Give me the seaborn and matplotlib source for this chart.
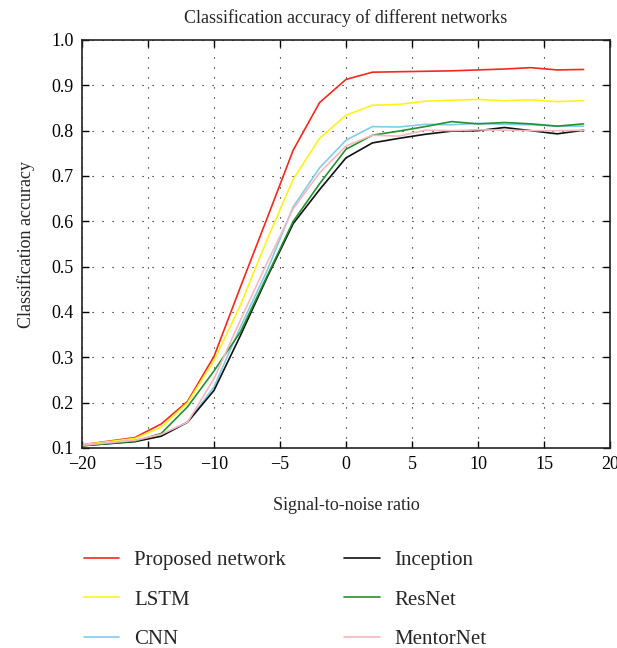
import matplotlib.pyplot as plt
import pandas as pd
import seaborn as sns

# SNR values (dB) and accuracy
snr = [-20, -16, -14, -12, -10, -8, -6, -4, -2, 0, 2, 4, 6, 8, 10, 12, 14, 16, 18]

proposed = [0.107, 0.123, 0.153, 0.203, 0.302, 0.455, 0.605, 0.757, 0.862, 0.913,
            0.929, 0.930, 0.931, 0.932, 0.934, 0.936, 0.939, 0.934, 0.935]
lstm = [0.107, 0.121, 0.146, 0.200, 0.293, 0.415, 0.558, 0.693, 0.783, 0.834,
        0.856, 0.858, 0.865, 0.867, 0.869, 0.866, 0.868, 0.864, 0.866]
cnn = [0.106, 0.117, 0.128, 0.157, 0.235, 0.367, 0.490, 0.632, 0.718, 0.779,
       0.809, 0.808, 0.814, 0.813, 0.816, 0.814, 0.813, 0.810, 0.810]
inception = [0.105, 0.114, 0.126, 0.157, 0.227, 0.348, 0.475, 0.595, 0.670, 0.740,
             0.773, 0.783, 0.792, 0.799, 0.800, 0.807, 0.800, 0.793, 0.801]
resnet = [0.105, 0.115, 0.132, 0.191, 0.270, 0.356, 0.478, 0.600, 0.683, 0.759,
          0.790, 0.799, 0.809, 0.820, 0.815, 0.818, 0.815, 0.810, 0.815]
mentornet = [0.106, 0.117, 0.130, 0.157, 0.253, 0.382, 0.507, 0.628, 0.707, 0.766,
             0.790, 0.788, 0.801, 0.800, 0.802, 0.801, 0.800, 0.800, 0.801]

names = ["Proposed network", "LSTM", "CNN", "Inception", "ResNet", "MentorNet"]
colors = ["#f5281e", "#fff21c", "#80cdea", "#111111", "#23912f", "#f6b7bf"]
series = [proposed, lstm, cnn, inception, resnet, mentornet]

rows = []
for name, vals in zip(names, series):
    for x, y in zip(snr, vals):
        rows.append({"snr": x, "acc": y, "net": name})
df = pd.DataFrame(rows)

sns.set_style("ticks")
plt.rcParams["font.family"] = ["Liberation Serif", "DejaVu Serif"]
plt.rcParams["axes.unicode_minus"] = True

fig = plt.figure(figsize=(6.17, 6.48), dpi=100)
ax = fig.add_axes([82 / 617, 1 - 448 / 648, (610 - 82) / 617, (448 - 40) / 648])

sns.lineplot(df, x="snr", y="acc", hue="net", hue_order=names,
             palette=dict(zip(names, colors)), linewidth=1.2, ax=ax)

ax.set_xlim(-20, 20)
ax.set_ylim(0.1, 1.0)
ax.set_xticks(range(-20, 21, 5))
ax.set_yticks([i / 10 for i in range(1, 11)])
ax.set_yticklabels([f"{i / 10:.1f}" for i in range(1, 11)])
ax.grid(True, color="k", linestyle=(0, (1, 8)), linewidth=0.8)
ax.tick_params(direction="in", top=True, right=True, length=5, width=1,
               labelsize=13, colors="k", pad=6)
for s in ax.spines.values():
    s.set_color("#222222")
    s.set_linewidth(1.2)

ax.set_title("Classification accuracy of different networks", fontsize=13, pad=12)
ax.set_xlabel("Signal-to-noise ratio", fontsize=13, labelpad=17)
ax.set_ylabel("Classification accuracy", fontsize=13, labelpad=12)

handles, labels = ax.get_legend_handles_labels()
ax.get_legend().remove()
fig.legend(handles, labels, ncol=2, frameon=False, fontsize=15,
           loc="upper left", bbox_to_anchor=(65 / 617, 1 - 532 / 648),
           handlelength=1.7, handletextpad=0.72, labelspacing=0.95,
           columnspacing=2.8)

plt.savefig("out.png", dpi=100)
